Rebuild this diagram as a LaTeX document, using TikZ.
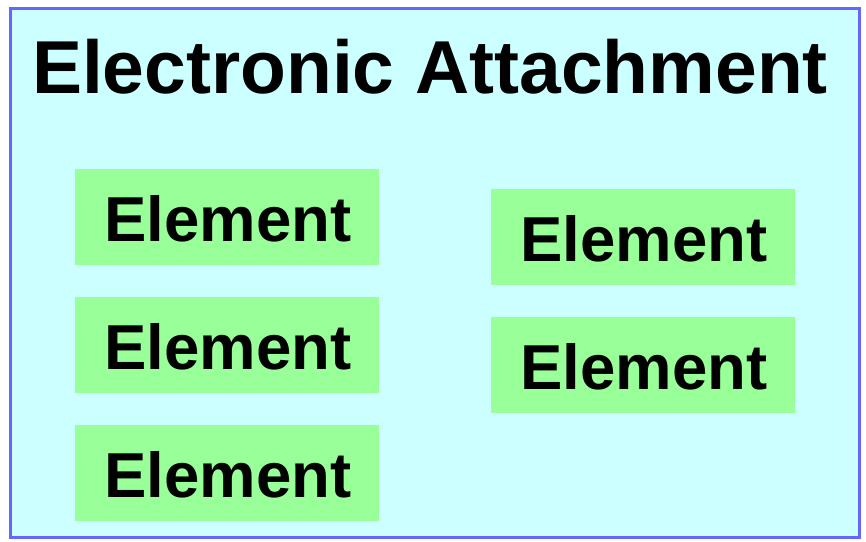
\documentclass[tikz,border=0pt]{standalone}
\usepackage{fontspec}
\setmainfont{Liberation Sans}
\definecolor{frameblue}{HTML}{6666FF}
\definecolor{bgcyan}{HTML}{CCFFFF}
\definecolor{elgreen}{HTML}{99FF99}
\tikzset{
  elbox/.style={fill=elgreen, draw=none},
  eltext/.style={anchor=base, inner sep=0pt, font=\fontsize{63.5}{63.5}\selectfont\bfseries},
}
\begin{document}
\begin{tikzpicture}[x=1pt,y=-1pt]
\useasboundingbox (0,0) rectangle (866,541);
\fill[white] (0,0) rectangle (866,541);
\draw[fill=bgcyan, draw=frameblue, line width=3pt] (10.5,8.5) rectangle (859,537);
\node[anchor=base, inner sep=0pt, font=\fontsize{75}{75}\selectfont\bfseries] (title) at (430,93) {Electronic Attachment};
% left column
\fill[elbox] (75,169) rectangle (379,265);
\node[eltext] (e1) at (228,241) {Element};
\fill[elbox] (75,297) rectangle (379,393);
\node[eltext] (e2) at (228,369) {Element};
\fill[elbox] (75,425) rectangle (379,521);
\node[eltext] (e3) at (228,497) {Element};
% right column
\fill[elbox] (491,189) rectangle (795,285);
\node[eltext] (e4) at (644,261) {Element};
\fill[elbox] (491,317) rectangle (795,413);
\node[eltext] (e5) at (644,389) {Element};
\end{tikzpicture}
\end{document}
